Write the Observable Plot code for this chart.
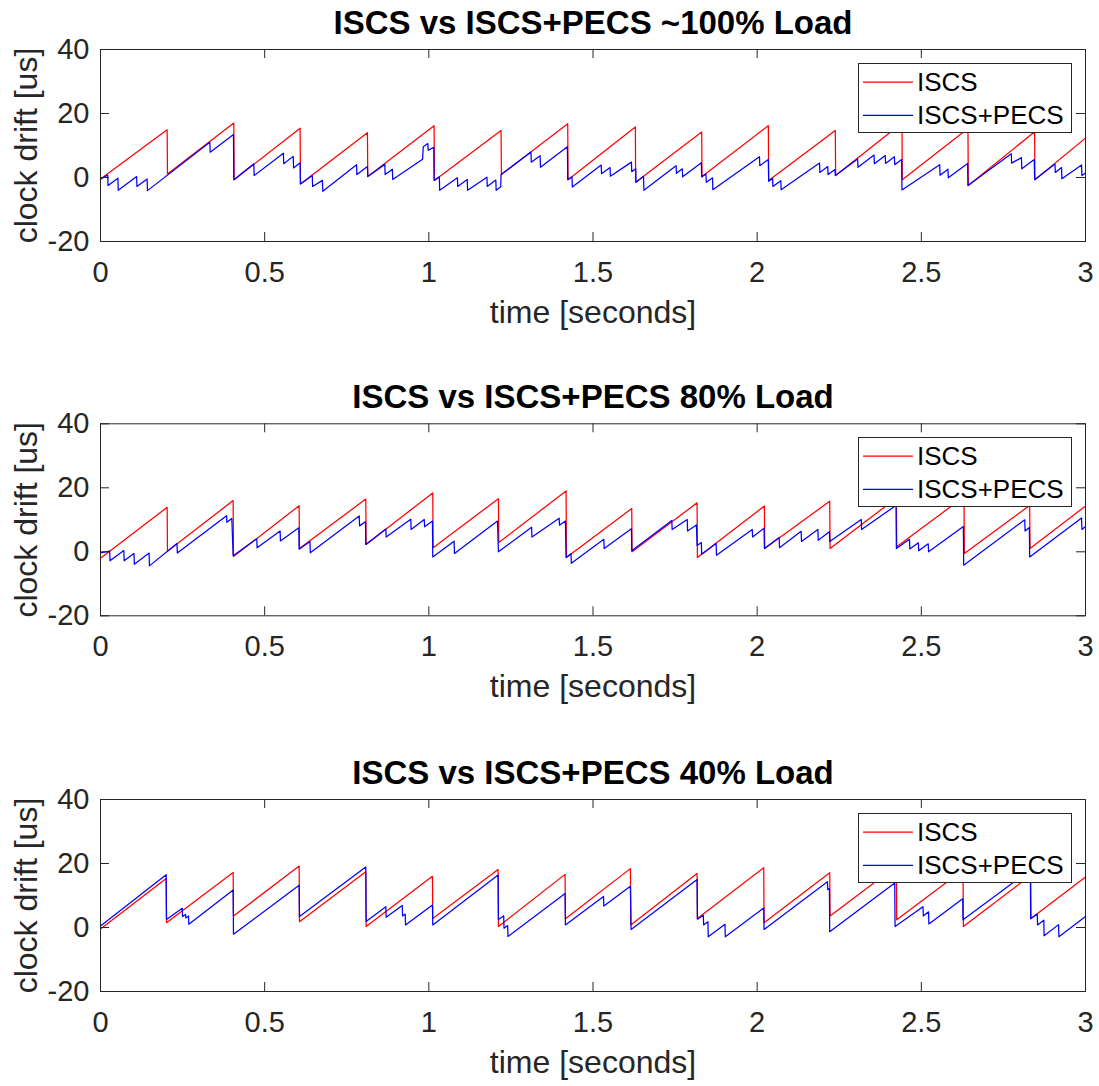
<!DOCTYPE html>
<html><head><meta charset="utf-8">
<script src="https://cdn.jsdelivr.net/npm/d3@7"></script>
<script src="https://cdn.jsdelivr.net/npm/@observablehq/plot@0.6"></script>
<style>
body{margin:0;background:#fff;overflow:hidden}
#root{position:relative;width:1099px;height:1086px;overflow:hidden;font-family:"Liberation Sans",Arial,Helvetica,sans-serif}
.panel{position:absolute;left:0}
.legend{position:absolute;background:#fff;border:1px solid #262626;box-sizing:border-box}
</style></head><body><div id="root"></div>
<script>
const xTicks = [0, 0.5, 1, 1.5, 2, 2.5, 3];
const yTicks = [-20, 0, 20, 40];
const seriesNames = ["ISCS", "ISCS+PECS"];
const titles = ["ISCS vs ISCS+PECS ~100% Load", "ISCS vs ISCS+PECS 80% Load", "ISCS vs ISCS+PECS 40% Load"];
const xLabel = "time [seconds]";
const yLabel = "clock drift [us]";

// [time (s), drift (us)]
const red100 = [[0,-0.5],[0.203,14.9],[0.204,1.1],[0.406,17.0],[0.407,-0.7],[0.608,15.4],[0.609,-2.0],[0.813,14.0],[0.814,0.3],[1.016,16.2],[1.017,-0.9],[1.220,14.7],[1.221,0.9],[1.423,16.8],[1.424,-0.7],[1.629,15.8],[1.630,-1.5],[1.831,14.2],[1.832,0.3],[2.034,16.2],[2.035,-0.9],[2.238,14.7],[2.239,0.6],[2.441,17.0],[2.442,-0.7],[2.642,15.3],[2.643,-2.5],[2.845,14.3],[2.846,-0.7],[3.0,12.3]];
const blue100 = [[0,-0.5],[0.022,0.8],[0.023,-2.5],[0.053,-0.2],[0.054,-4.0],[0.110,0.3],[0.111,-2.8],[0.142,-0.5],[0.143,-4.1],[0.333,11.0],[0.334,7.9],[0.405,13.4],[0.406,-0.7],[0.467,4.3],[0.468,0.6],[0.557,7.6],[0.558,4.3],[0.587,6.6],[0.588,3.0],[0.608,4.6],[0.609,-2.0],[0.645,0.6],[0.646,-2.8],[0.676,-0.9],[0.677,-4.3],[0.780,4.0],[0.781,0.9],[0.813,3.4],[0.814,0.3],[0.866,4.1],[0.867,0.9],[0.889,2.6],[0.890,-0.6],[0.981,5.7],[0.983,9.6],[0.997,10.6],[0.998,8.5],[1.015,9.4],[1.016,-0.9],[1.032,0.2],[1.033,-4.0],[1.087,-0.1],[1.088,-2.8],[1.117,-0.6],[1.118,-4.0],[1.177,0.1],[1.178,-2.8],[1.204,-0.8],[1.205,-4.0],[1.219,-2.9],[1.220,0.9],[1.311,8.0],[1.312,4.8],[1.339,6.8],[1.340,3.2],[1.422,9.6],[1.423,-0.7],[1.436,0.2],[1.437,-3.0],[1.525,3.9],[1.526,1.2],[1.552,3.1],[1.553,0.4],[1.617,4.8],[1.618,1.8],[1.630,2.7],[1.631,-1.5],[1.654,0.3],[1.655,-4.0],[1.753,3.7],[1.754,1.3],[1.772,2.7],[1.773,0.2],[1.830,4.6],[1.831,0.2],[1.844,1.1],[1.845,-1.5],[1.864,-0.1],[1.865,-3.8],[2.007,6.5],[2.008,3.7],[2.034,5.6],[2.035,-1.2],[2.047,-0.2],[2.048,-2.8],[2.072,-1.0],[2.073,-3.8],[2.190,4.5],[2.191,1.6],[2.215,3.4],[2.216,0.9],[2.237,2.5],[2.238,0.6],[2.306,5.8],[2.307,3.2],[2.356,7.0],[2.357,4.3],[2.390,6.9],[2.391,4.4],[2.418,6.5],[2.419,4.0],[2.440,5.6],[2.441,-3.9],[2.556,4.0],[2.557,0.7],[2.581,2.6],[2.582,-0.1],[2.641,4.4],[2.642,-2.5],[2.774,7.4],[2.775,4.5],[2.805,6.2],[2.806,2.7],[2.844,5.6],[2.845,-0.7],[2.907,4.2],[2.908,1.6],[2.927,3.1],[2.928,-0.4],[2.988,3.9],[2.989,0.6],[3.0,1.4]];

const red80 = [[0,-2.0],[0.203,13.9],[0.204,0.2],[0.404,16.0],[0.405,-1.5],[0.605,14.4],[0.606,1.0],[0.808,16.5],[0.809,2.3],[1.012,18.4],[1.013,1.3],[1.212,16.6],[1.213,2.9],[1.418,19.0],[1.419,-1.8],[1.618,13.5],[1.619,0.0],[1.817,15.3],[1.818,-1.8],[2.022,14.3],[2.023,1.0],[2.221,15.8],[2.222,1.0],[2.424,16.8],[2.425,1.6],[2.630,17.2],[2.631,-0.5],[2.830,14.5],[2.831,1.0],[3.0,14.3]];
const blue80 = [[0,-0.3],[0.028,0.2],[0.029,-2.8],[0.071,0.4],[0.072,-2.8],[0.102,-0.5],[0.103,-3.9],[0.148,-0.4],[0.149,-4.4],[0.233,2.6],[0.234,-0.4],[0.384,11.3],[0.385,9.2],[0.400,10.4],[0.404,-1.2],[0.476,4.1],[0.477,1.3],[0.547,6.5],[0.548,3.4],[0.604,7.5],[0.605,0.8],[0.638,3.2],[0.639,-0.3],[0.788,11.2],[0.789,8.1],[0.807,9.4],[0.808,2.3],[0.869,7.1],[0.870,4.6],[0.945,10.2],[0.946,7.0],[0.986,10.1],[0.987,7.8],[1.011,9.6],[1.012,-1.6],[1.077,3.3],[1.078,-0.5],[1.209,9.6],[1.212,0.0],[1.313,7.7],[1.314,4.6],[1.397,10.5],[1.398,8.3],[1.416,9.6],[1.418,-1.8],[1.433,-0.6],[1.434,-3.6],[1.533,3.9],[1.534,1.0],[1.617,7.2],[1.618,0.3],[1.740,9.8],[1.741,7.0],[1.787,10.1],[1.788,6.5],[1.815,8.4],[1.817,2.0],[1.830,2.9],[1.831,-0.8],[1.875,2.6],[1.876,-1.1],[1.985,7.0],[1.986,4.6],[2.021,7.4],[2.022,1.0],[2.067,4.5],[2.068,1.3],[2.134,6.4],[2.135,3.2],[2.185,7.0],[2.186,3.6],[2.220,6.3],[2.221,3.2],[2.317,10.1],[2.318,7.0],[2.423,14.5],[2.424,1.0],[2.464,3.9],[2.465,0.9],[2.491,2.8],[2.492,0.3],[2.521,2.5],[2.522,0.0],[2.628,7.9],[2.629,-4.2],[2.815,10.0],[2.816,6.5],[2.829,7.6],[2.830,-1.6],[2.988,10.6],[2.989,7.0],[3.0,7.9]];

const red40 = [[0,-0.5],[0.200,15.3],[0.201,1.5],[0.404,17.2],[0.405,3.6],[0.605,19.2],[0.606,1.8],[0.808,17.4],[0.809,0.3],[1.011,16.0],[1.012,2.8],[1.211,18.1],[1.212,0.3],[1.415,16.6],[1.416,2.7],[1.614,18.4],[1.615,0.8],[1.817,16.9],[1.818,2.8],[2.020,18.7],[2.021,1.5],[2.221,17.1],[2.222,3.6],[2.424,19.2],[2.425,2.4],[2.627,18.0],[2.628,0.3],[2.833,16.3],[2.834,2.8],[3.0,15.8]];
const blue40 = [[0,0.5],[0.200,16.5],[0.201,2.5],[0.249,6.0],[0.250,3.4],[0.259,4.1],[0.260,3.0],[0.268,3.6],[0.269,1.0],[0.404,11.7],[0.405,-2.1],[0.605,13.2],[0.606,3.4],[0.808,18.9],[0.809,1.9],[0.869,6.5],[0.870,3.2],[0.919,6.9],[0.920,3.6],[0.928,4.2],[0.929,0.8],[1.011,7.0],[1.012,0.8],[1.211,16.4],[1.212,2.5],[1.228,3.6],[1.229,-0.2],[1.240,0.6],[1.241,-2.8],[1.415,10.6],[1.416,0.8],[1.532,9.7],[1.533,6.7],[1.614,12.9],[1.616,-0.6],[1.817,15.0],[1.818,2.6],[1.836,3.8],[1.837,0.8],[1.850,1.8],[1.851,-2.9],[1.902,1.0],[1.903,-2.9],[2.020,6.1],[2.021,-0.6],[2.214,14.3],[2.215,11.8],[2.220,12.2],[2.221,-1.3],[2.419,13.9],[2.420,0.3],[2.505,6.5],[2.506,3.6],[2.522,4.9],[2.523,1.1],[2.626,9.0],[2.627,2.4],[2.832,18.0],[2.833,2.7],[2.853,4.2],[2.854,0.8],[2.873,2.3],[2.874,-2.6],[2.918,0.9],[2.919,-2.9],[3.0,3.4]];

const colors = ["#ff0000", "#0000ff"];
const FONT = '"Liberation Sans", Arial, Helvetica, sans-serif';
const INK = "#262626";
const LINEW = 1.25;

const layout = [
  {title: titles[0], red: red100, blue: blue100, svgTop: 0, height: 374, mt: 49},
  {title: titles[1], red: red80, blue: blue80, svgTop: 374, height: 376, mt: 49.3},
  {title: titles[2], red: red40, blue: blue40, svgTop: 750, height: 336, mt: 49}
];
const ML = 100, MR = 14, PH = 192, TICK = 9;
const frameW = 1099 - ML - MR;

const root = document.getElementById("root");
for (const p of layout) {
  const chart = Plot.plot({
    width: 1099, height: p.height,
    marginLeft: ML, marginRight: MR, marginTop: p.mt, marginBottom: p.height - p.mt - PH,
    style: {fontFamily: FONT, background: "transparent", overflow: "visible"},
    x: {domain: [0, 3]},
    y: {domain: [-20, 40]},
    marks: [
      Plot.line(p.red, {x: d => d[0], y: d => d[1], stroke: colors[0], strokeWidth: LINEW}),
      Plot.line(p.blue, {x: d => d[0], y: d => d[1], stroke: colors[1], strokeWidth: LINEW}),
      Plot.frame({stroke: INK, strokeWidth: 1}),
      Plot.tickX(xTicks, {x: d => d, insetTop: PH - TICK, stroke: INK}),
      Plot.tickX(xTicks, {x: d => d, insetBottom: PH - TICK, stroke: INK}),
      Plot.tickY(yTicks, {y: d => d, insetRight: frameW - TICK, stroke: INK}),
      Plot.tickY(yTicks, {y: d => d, insetLeft: frameW - TICK, stroke: INK}),
      Plot.axisX(xTicks, {tickSize: 0, tickPadding: 20, fontSize: 29, fill: INK, label: null, tickFormat: d => String(d)}),
      Plot.axisY(yTicks, {tickSize: 0, tickPadding: 11, fontSize: 29, fill: INK, label: null, tickFormat: d => String(d)}),
      Plot.text([p.title], {text: d => d, frameAnchor: "top", textAnchor: "middle", dy: -16, lineAnchor: "bottom", fontSize: 33, fontWeight: "bold", fill: "#000"}),
      Plot.text([xLabel], {text: d => d, frameAnchor: "bottom", textAnchor: "middle", dy: 81, lineAnchor: "bottom", fontSize: 32, fill: INK}),
      Plot.text([yLabel], {text: d => d, frameAnchor: "left", textAnchor: "middle", lineAnchor: "middle", dx: -74, rotate: -90, fontSize: 32, fill: INK})
    ]
  });
  const wrap = document.createElement("div");
  wrap.className = "panel";
  wrap.style.top = p.svgTop + "px";
  wrap.appendChild(chart);
  root.appendChild(wrap);

  // legend box (MATLAB style, drawn over the axes)
  const plotTop = p.svgTop + p.mt;
  const lg = document.createElement("div");
  lg.className = "legend";
  lg.style.left = "858px";
  lg.style.top = (plotTop + 14) + "px";
  lg.style.width = "214px";
  lg.style.height = "70px";
  const ns = "http://www.w3.org/2000/svg";
  const s = document.createElementNS(ns, "svg");
  s.setAttribute("width", 212); s.setAttribute("height", 68);
  s.style.display = "block";
  seriesNames.forEach((name, i) => {
    const cy = 18 + i * 33.3;
    const ln = document.createElementNS(ns, "line");
    ln.setAttribute("x1", 4); ln.setAttribute("x2", 54);
    ln.setAttribute("y1", cy); ln.setAttribute("y2", cy);
    ln.setAttribute("stroke", colors[i]); ln.setAttribute("stroke-width", LINEW);
    s.appendChild(ln);
    const tx = document.createElementNS(ns, "text");
    tx.setAttribute("x", 58); tx.setAttribute("y", cy);
    tx.setAttribute("dy", "0.35em");
    tx.setAttribute("font-size", 26);
    tx.setAttribute("font-family", FONT);
    tx.setAttribute("fill", "#000");
    tx.textContent = name;
    s.appendChild(tx);
  });
  lg.appendChild(s);
  root.appendChild(lg);
}
</script></body></html>
